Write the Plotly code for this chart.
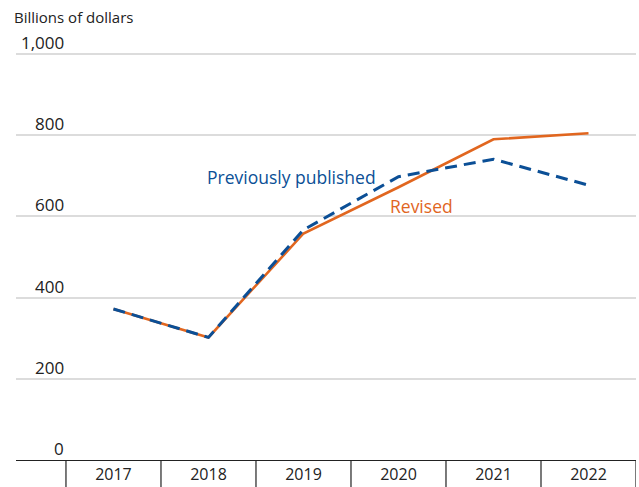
import plotly.graph_objects as go

# Annual values, billions of dollars
years = ["2017", "2018", "2019", "2020", "2021", "2022"]
revised = [372, 302, 558, 672, 790, 805]
previously_published = [372, 302, 567, 698, 741, 677]
y_ticks = [0, 200, 400, 600, 800, 1000]
y_tick_labels = ["0", "200", "400", "600", "800", "1,000"]

ORANGE = "#E1661F"
BLUE = "#0B4F96"
FONT = "Open Sans"
INK = "#222"

fig = go.Figure()
fig.add_trace(go.Scatter(
    x=years, y=revised, mode="lines", name="Revised",
    line=dict(color=ORANGE, width=2.6), hoverinfo="skip",
))
fig.add_trace(go.Scatter(
    x=years, y=previously_published, mode="lines", name="Previously published",
    line=dict(color=BLUE, width=3, dash="12px,7px"), hoverinfo="skip",
))

# y tick labels sit just above their gridlines, right-aligned
for v, lab in zip(y_ticks, y_tick_labels):
    fig.add_annotation(
        x=0.081, xref="paper", y=v, yref="y", text=lab, showarrow=False,
        xanchor="right", yanchor="bottom", yshift=-2,
        font=dict(family=FONT, size=17, color=INK),
    )

# category separators hanging below the baseline
n = len(years)
for i in range(n + 1):
    fig.add_shape(
        type="line", xref="x", yref="paper", x0=i - 0.5, x1=i - 0.5,
        y0=0, y1=-0.075, line=dict(color=INK, width=1.2),
    )

fig.add_annotation(
    x=0.0, xref="paper", y=1.0, yref="paper", yshift=33, text="Billions of dollars",
    showarrow=False, xanchor="left", yanchor="middle", xshift=-4,
    font=dict(family=FONT, size=15, color=INK),
)
# direct line labels, placed relative to the 2020 points
fig.add_annotation(
    x=3, y=previously_published[3], text="Previously published", showarrow=False,
    xanchor="right", yanchor="middle", xshift=-20,
    font=dict(family=FONT, size=17.5, color=BLUE),
)
fig.add_annotation(
    x=3, y=revised[3], text="Revised", showarrow=False,
    xanchor="left", yanchor="middle", xshift=-10, yshift=-19,
    font=dict(family=FONT, size=17.5, color=ORANGE),
)

fig.update_layout(
    width=639, height=487,
    margin=dict(l=16, r=3, t=50, b=27),
    paper_bgcolor="white", plot_bgcolor="white",
    showlegend=False,
    font=dict(family=FONT, size=17, color=INK),
    xaxis=dict(
        type="category", range=[-1.026, n - 0.5],
        showgrid=False, ticks="", showline=True, linecolor=INK, linewidth=1.2,
        tickfont=dict(family=FONT, size=16, color=INK), ticklabelstandoff=0,
        zeroline=False, fixedrange=True,
    ),
    yaxis=dict(
        range=[0, 1010], tickvals=y_ticks, showticklabels=False,
        showgrid=True, gridcolor="#DCDCDC", gridwidth=1.5,
        zeroline=False, showline=False, fixedrange=True,
    ),
)

fig.write_html("out.html")
